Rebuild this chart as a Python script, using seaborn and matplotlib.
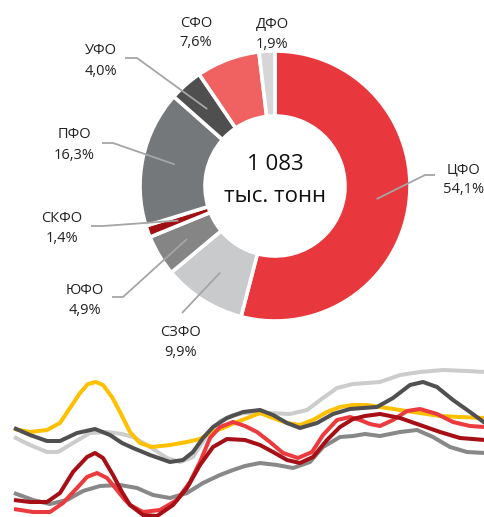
import numpy as np
import pandas as pd
import matplotlib.pyplot as plt
import seaborn as sns

sns.set_theme(style="white")
plt.rcParams['font.family'] = ['Open Sans', 'DejaVu Sans']

# donut data (clockwise from the top)
regions = ["ЦФО", "СЗФО", "ЮФО", "СКФО", "ПФО", "УФО", "СФО", "ДФО"]
shares = [54.1, 9.9, 4.9, 1.4, 16.3, 4.0, 7.6, 1.9]
slice_colors = ["#e9383d", "#c9cacc", "#858585", "#a11014",
                "#75787b", "#4f4f4f", "#f06262", "#d6d6d6"]
total_text = "1 083"
unit_text = "тыс. тонн"

# decorative lines at the bottom
yellow_x = [14, 30, 47, 60, 70, 80, 88, 96, 103, 112, 120, 130, 140, 152, 170, 187, 200, 210,
            223, 237, 250, 260, 273, 287, 300, 313, 327, 340, 353, 367, 380, 400, 420, 440, 460, 485]
yellow_v = [88, 85, 87, 94, 109, 124, 133, 135, 132, 120, 105, 85, 74, 70, 72, 75, 78, 84,
            89, 95, 100, 104, 99, 94, 92, 97, 105, 110, 112, 112, 110, 107, 104, 101, 100, 99]

dark_x = [14, 30, 47, 60, 77, 95, 110, 122, 133, 150, 170, 183, 193, 203, 213, 227, 243,
          260, 273, 287, 300, 317, 333, 350, 363, 377, 393, 410, 423, 437, 453, 470, 485]
dark_v = [89, 82, 76, 76, 84, 88, 82, 74, 69, 62, 55, 57, 65, 79, 90, 99, 105,
          107, 102, 94, 89, 94, 103, 108, 109, 110, 119, 132, 135, 130, 117, 105, 94]

light_x = [14, 30, 47, 58, 73, 90, 107, 122, 133, 150, 167, 180, 193, 207, 220, 233, 245,
           267, 290, 307, 323, 337, 353, 367, 380, 400, 420, 443, 467, 485]
light_v = [80, 72, 65, 65, 74, 84, 85, 83, 80, 70, 59, 55, 60, 82, 96, 102, 104,
           104, 103, 107, 119, 129, 133, 134, 135, 142, 145, 147, 146, 145]

red_x = [14, 33, 50, 63, 77, 87, 97, 107, 117, 125, 130, 143, 160, 177, 190, 200, 210, 220, 233,
         245, 257, 270, 283, 298, 312, 323, 337, 350, 360, 370, 380, 393, 407, 420, 437, 453, 470, 485]
red_v = [8, 5, 5, 14, 29, 40, 44, 39, 27, 17, 12, 5, 7, 17, 35, 55, 79, 90, 95,
         91, 85, 75, 64, 59, 65, 82, 97, 100, 97, 93, 91, 97, 106, 108, 103, 95, 91, 90]

darkred_x = [14, 30, 47, 60, 73, 87, 95, 103, 113, 122, 130, 143, 157, 173, 187, 200, 213,
             227, 245, 260, 273, 287, 300, 313, 327, 340, 353, 365, 380, 400, 420, 440, 460, 485]
darkred_v = [17, 15, 15, 24, 45, 60, 64, 59, 42, 25, 12, 2, 1, 12, 29, 52, 70,
             78, 77, 72, 65, 57, 54, 60, 77, 90, 98, 101, 103, 99, 92, 85, 79, 77]

mid_x = [14, 33, 50, 67, 83, 100, 120, 137, 153, 170, 187, 203, 220, 233, 245,
         260, 277, 293, 310, 323, 340, 353, 365, 380, 400, 417, 433, 450, 467, 485]
mid_v = [24, 17, 13, 17, 26, 31, 32, 29, 22, 19, 24, 34, 42, 47, 51,
         54, 52, 49, 55, 70, 80, 81, 83, 81, 85, 87, 80, 70, 65, 64]

W, H = 485, 517
CX, CY = 275, H - 186
R_OUT, R_IN = 135, 70

fig = plt.figure(figsize=(4.85, 5.17), dpi=100)

# ---- donut ----
ax = fig.add_axes([0, 0, 1, 1])
wedges, _ = ax.pie(shares, colors=slice_colors, startangle=90, counterclock=False,
                   center=(CX, CY), radius=R_OUT,
                   wedgeprops=dict(width=R_OUT - R_IN, edgecolor="white", linewidth=2.6))
ax.set_xlim(0, W)
ax.set_ylim(0, H)
ax.set_aspect("equal")
ax.axis("off")

ax.text(CX, H - 170, total_text, ha="center", va="baseline", fontsize=16, color="#111111")
ax.text(CX, H - 202, unit_text, ha="center", va="baseline", fontsize=16, color="#111111")

# label layout: x, name baseline, pct baseline (pixels from top), leader start / elbow
label_pos = {
    "ЦФО": (464, 173, 193, [(435, 175), (425, 175)]),
    "СЗФО": (181, 336, 356, [(182, 313)]),
    "ЮФО": (85, 294, 314, [(112, 297), (123, 297)]),
    "СКФО": (62, 222, 242, [(91, 226), (103, 226)]),
    "ПФО": (74, 138, 159, [(102, 143), (113, 143)]),
    "УФО": (101, 54, 75, [(125, 58), (137, 58)]),
    "СФО": (196, 27, 46, []),
    "ДФО": (272, 28, 48, []),
}

r_mid = (R_OUT + R_IN) / 2
for w, name, val in zip(wedges, regions, shares):
    lx, b1, b2, path = label_pos[name]
    pct = f"{val:.1f}".replace(".", ",") + "%"
    ax.text(lx, H - b1, name, ha="center", va="baseline", fontsize=10.5, color="#222222")
    ax.text(lx, H - b2, pct, ha="center", va="baseline", fontsize=10.5, color="#222222")
    if path:
        ang = np.deg2rad((w.theta1 + w.theta2) / 2)
        px = [p[0] for p in path] + [CX + r_mid * np.cos(ang)]
        py = [H - p[1] for p in path] + [CY + r_mid * np.sin(ang)]
        ax.plot(px, py, color="#a5a5a5", lw=1.3, solid_capstyle="butt")

# ---- decorative lines ----
series = [
    ("light", light_x, light_v, "#cccccc"),
    ("mid", mid_x, mid_v, "#888888"),
    ("yellow", yellow_x, yellow_v, "#ffc000"),
    ("red", red_x, red_v, "#ec3b3f"),
    ("darkred", darkred_x, darkred_v, "#a50f15"),
    ("dark", dark_x, dark_v, "#505050"),
]
rows = []
for key, xs, vs, _ in series:
    rows += [{"x": x, "v": v, "s": key} for x, v in zip(xs, vs)]
lines = pd.DataFrame(rows)

ax2 = fig.add_axes([0, 0, 1, 152 / H])
ax2.patch.set_alpha(0)
sns.lineplot(data=lines, x="x", y="v", hue="s", hue_order=[s[0] for s in series],
             palette={s[0]: s[3] for s in series}, estimator=None, sort=False,
             linewidth=2.9, legend=False, ax=ax2)
for ln in ax2.lines:
    ln.set_solid_joinstyle("round")
    ln.set_solid_capstyle("butt")
ax2.set_xlim(0, W)
ax2.set_ylim(0, 152)
ax2.axis("off")

fig.savefig("out.png", dpi=100)
